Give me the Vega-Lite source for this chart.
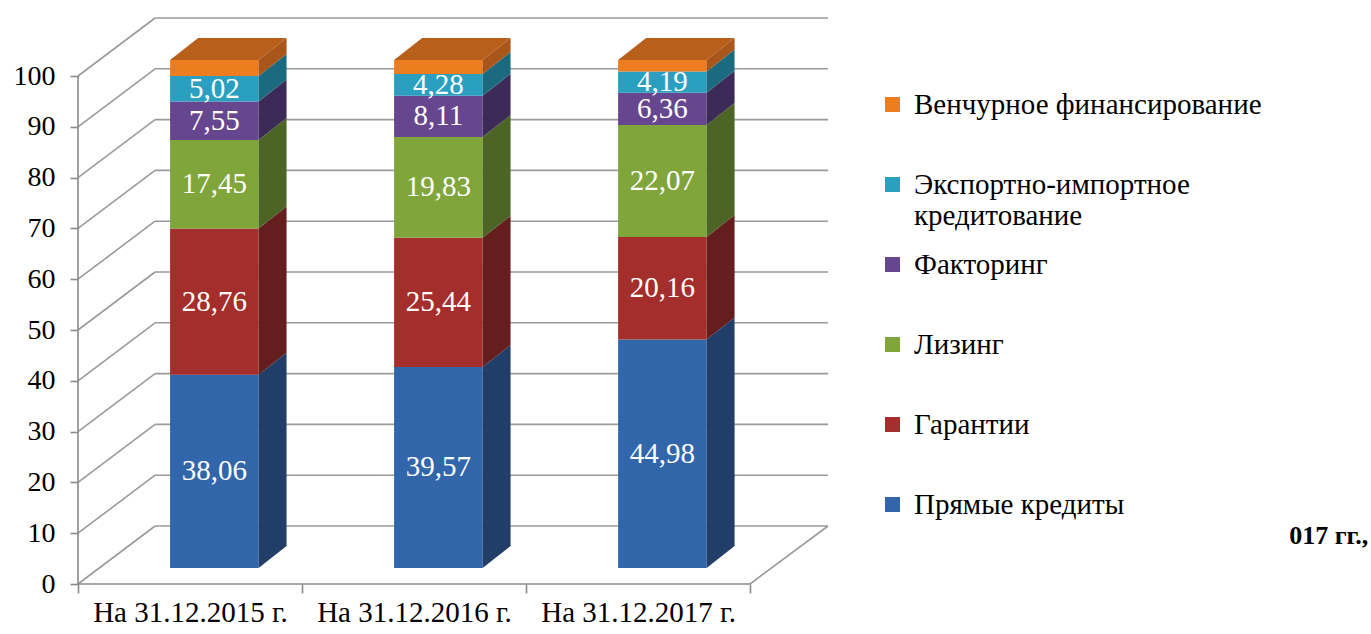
{
  "$schema": "https://vega.github.io/schema/vega-lite/v6.json",
  "width": 750,
  "height": 566,
  "autosize": {"type": "none"},
  "padding": {"left": 78, "top": 18, "right": 543, "bottom": 50},
  "background": "white",
  "config": {
    "view": {"stroke": null},
    "locale": {"number": {"decimal": ",", "thousands": " ", "grouping": [3], "currency": ["", " ₽"]}}
  },
  "datasets": {
    "one": [{}],
    "grid": [{"k": 0}, {"k": 10}, {"k": 20}, {"k": 30}, {"k": 40}, {"k": 50}, {"k": 60}, {"k": 70}, {"k": 80}, {"k": 90}, {"k": 100}],
    "shares": [
      {"year": "На 31.12.2015 г.", "cat": "Прямые кредиты", "v": 38.06},
      {"year": "На 31.12.2015 г.", "cat": "Гарантии", "v": 28.76},
      {"year": "На 31.12.2015 г.", "cat": "Лизинг", "v": 17.45},
      {"year": "На 31.12.2015 г.", "cat": "Факторинг", "v": 7.55},
      {"year": "На 31.12.2015 г.", "cat": "Экспортно-импортное кредитование", "v": 5.02},
      {"year": "На 31.12.2015 г.", "cat": "Венчурное финансирование", "v": 3.16},
      {"year": "На 31.12.2016 г.", "cat": "Прямые кредиты", "v": 39.57},
      {"year": "На 31.12.2016 г.", "cat": "Гарантии", "v": 25.44},
      {"year": "На 31.12.2016 г.", "cat": "Лизинг", "v": 19.83},
      {"year": "На 31.12.2016 г.", "cat": "Факторинг", "v": 8.11},
      {"year": "На 31.12.2016 г.", "cat": "Экспортно-импортное кредитование", "v": 4.28},
      {"year": "На 31.12.2016 г.", "cat": "Венчурное финансирование", "v": 2.77},
      {"year": "На 31.12.2017 г.", "cat": "Прямые кредиты", "v": 44.98},
      {"year": "На 31.12.2017 г.", "cat": "Гарантии", "v": 20.16},
      {"year": "На 31.12.2017 г.", "cat": "Лизинг", "v": 22.07},
      {"year": "На 31.12.2017 г.", "cat": "Факторинг", "v": 6.36},
      {"year": "На 31.12.2017 г.", "cat": "Экспортно-импортное кредитование", "v": 4.19},
      {"year": "На 31.12.2017 г.", "cat": "Венчурное финансирование", "v": 2.24}
    ]
  },
  "layer": [
    {
      "data": {"name": "grid"},
      "transform": [{"calculate": "datum.k + 11.42", "as": "kb"}],
      "mark": {"type": "rule", "color": "#9a9a9a", "strokeWidth": 1.6},
      "encoding": {
        "x": {"datum": 0.344, "type": "quantitative", "title": null, "scale": {"domain": [0, 3.348], "nice": false, "zero": false},
          "axis": {"values": [0, 0.5, 1, 1.5, 2, 2.5, 3], "title": null, "domain": false, "grid": false,
            "labelExpr": "datum.value == 0.5 ? 'На 31.12.2015 г.' : datum.value == 1.5 ? 'На 31.12.2016 г.' : datum.value == 2.5 ? 'На 31.12.2017 г.' : ''",
            "labelOverlap": false, "labelFlush": false, "labelBound": false, "labelLimit": 400,
            "tickSize": 9, "tickColor": "#8a8a8a", "tickWidth": 1.6,
            "tickOpacity": {"condition": {"test": "datum.value % 1 != 0", "value": 0}, "value": 1},
            "labelFont": "Liberation Serif", "labelFontSize": 29, "labelColor": "#000000", "labelPadding": 5}},
        "x2": {"datum": 3.348},
        "y": {"field": "kb", "type": "quantitative", "title": null, "scale": {"domain": [0, 111.42], "nice": false, "zero": false},
          "axis": {"values": [0, 10, 20, 30, 40, 50, 60, 70, 80, 90, 100], "title": null, "domain": false, "grid": false,
            "tickSize": 8, "tickColor": "#8a8a8a", "tickWidth": 1.6,
            "labelFont": "Liberation Serif", "labelFontSize": 28, "labelColor": "#000000", "labelPadding": 15}}
      }
    },
    {
      "data": {"name": "grid"},
      "transform": [{"calculate": "datum.k + 11.42", "as": "kb"}],
      "mark": {"type": "rule", "color": "#9a9a9a", "strokeWidth": 1.6},
      "encoding": {
        "x": {"datum": 0, "type": "quantitative", "title": null},
        "x2": {"datum": 0.344},
        "y": {"field": "k", "type": "quantitative", "title": null},
        "y2": {"field": "kb"}
      }
    },
    {
      "data": {"name": "one"},
      "mark": {"type": "rule", "color": "#8a8a8a", "strokeWidth": 1.6},
      "encoding": {
        "x": {"datum": 0, "type": "quantitative", "title": null},
        "y": {"datum": 0, "type": "quantitative", "title": null},
        "y2": {"datum": 100}
      }
    },
    {
      "data": {"name": "one"},
      "mark": {"type": "rule", "color": "#8a8a8a", "strokeWidth": 1.6},
      "encoding": {
        "x": {"datum": 0, "type": "quantitative", "title": null},
        "x2": {"datum": 3},
        "y": {"datum": 0, "type": "quantitative", "title": null}
      }
    },
    {
      "data": {"name": "one"},
      "mark": {"type": "rule", "color": "#9a9a9a", "strokeWidth": 1.6},
      "encoding": {
        "x": {"datum": 3, "type": "quantitative", "title": null},
        "x2": {"datum": 3.348},
        "y": {"datum": 0, "type": "quantitative", "title": null},
        "y2": {"datum": 11.42}
      }
    },
    {
      "data": {"name": "shares"},
      "transform": [
        {"calculate": "indexof(['На 31.12.2015 г.','На 31.12.2016 г.','На 31.12.2017 г.'], datum.year)", "as": "i"},
        {"calculate": "indexof(['Прямые кредиты','Гарантии','Лизинг','Факторинг','Экспортно-импортное кредитование','Венчурное финансирование'], datum.cat)", "as": "o"},
        {"stack": "v", "groupby": ["year"], "sort": [{"field": "o", "order": "ascending"}], "as": ["s0", "s1"]},
        {"calculate": "datum.i + 0.411", "as": "fx0"},
        {"calculate": "datum.i + 0.806", "as": "fx1"},
        {"calculate": "datum.s0 + 3.15", "as": "fy0"},
        {"calculate": "datum.s1 + 3.15", "as": "fy1"}
      ],
      "layer": [
        {
          "mark": {"type": "rect"},
          "encoding": {
            "x": {"field": "fx0", "type": "quantitative", "title": null},
            "x2": {"field": "fx1"},
            "y": {"field": "fy0", "type": "quantitative", "title": null},
            "y2": {"field": "fy1"},
            "color": {
              "field": "cat", "type": "nominal",
              "scale": {
                "domain": ["Венчурное финансирование", "Экспортно-импортное кредитование", "Факторинг", "Лизинг", "Гарантии", "Прямые кредиты"],
                "range": ["#ee7d20", "#2b9fc0", "#66468e", "#80a53b", "#a42e2c", "#3166ab"]
              },
              "legend": {
                "title": null, "orient": "none", "legendX": 800, "legendY": 72,
                "symbolType": "square", "symbolSize": 225, "symbolStrokeWidth": 0,
                "labelFont": "Liberation Serif", "labelFontSize": 29, "labelColor": "#000000",
                "labelOffset": 7, "labelLimit": 500, "rowPadding": 19, "gridAlign": "all",
                "labelExpr": "datum.label == 'Экспортно-импортное кредитование' ? ['Экспортно-импортное', 'кредитование'] : datum.label"
              }
            }
          }
        },
        {
          "transform": [
            {"calculate": "[0, 1]", "as": "k"},
            {"flatten": ["k"]},
            {"calculate": "datum.fx1 + datum.k * 0.125", "as": "sx"},
            {"calculate": "datum.fy0 + datum.k * 4.33", "as": "sy0"},
            {"calculate": "datum.fy1 + datum.k * 4.33", "as": "sy1"}
          ],
          "mark": {"type": "area", "orient": "vertical"},
          "encoding": {
            "x": {"field": "sx", "type": "quantitative", "title": null},
            "y": {"field": "sy0", "type": "quantitative", "title": null, "stack": null},
            "y2": {"field": "sy1"},
            "detail": [{"field": "year"}, {"field": "cat"}],
            "fill": {
              "field": "cat", "type": "nominal", "legend": null,
              "scale": {
                "domain": ["Венчурное финансирование", "Экспортно-импортное кредитование", "Факторинг", "Лизинг", "Гарантии", "Прямые кредиты"],
                "range": ["#a8561a", "#1b6a80", "#3c2b56", "#4c6527", "#631e1d", "#203e68"]
              }
            }
          }
        },
        {
          "transform": [
            {"filter": "datum.cat == 'Венчурное финансирование'"},
            {"calculate": "[0, 1]", "as": "k"},
            {"flatten": ["k"]},
            {"calculate": "datum.fx0 + datum.k * 0.125", "as": "tx0"},
            {"calculate": "datum.fx1 + datum.k * 0.125", "as": "tx1"},
            {"calculate": "datum.fy1 + datum.k * 4.33", "as": "ty"}
          ],
          "mark": {"type": "area", "orient": "horizontal", "color": "#b85f1b"},
          "encoding": {
            "y": {"field": "ty", "type": "quantitative", "title": null},
            "x": {"field": "tx0", "type": "quantitative", "title": null, "stack": null},
            "x2": {"field": "tx1"},
            "detail": {"field": "year"}
          }
        },
        {
          "transform": [
            {"filter": "datum.cat != 'Венчурное финансирование'"},
            {"calculate": "(datum.fx0 + datum.fx1) / 2", "as": "mx"},
            {"calculate": "(datum.fy0 + datum.fy1) / 2", "as": "my"}
          ],
          "mark": {"type": "text", "font": "Liberation Serif", "fontSize": 29, "color": "#ffffff", "baseline": "middle", "align": "center"},
          "encoding": {
            "x": {"field": "mx", "type": "quantitative", "title": null},
            "y": {"field": "my", "type": "quantitative", "title": null},
            "text": {"field": "v", "type": "quantitative", "format": ".2f"}
          }
        }
      ]
    },
    {
      "data": {"name": "one"},
      "mark": {"type": "text", "font": "Liberation Serif", "fontSize": 26, "fontWeight": "bold", "color": "#000000", "align": "right", "baseline": "middle", "text": "017 гг.,"},
      "encoding": {
        "x": {"datum": 5.76, "type": "quantitative", "title": null},
        "y": {"datum": 9.45, "type": "quantitative", "title": null}
      }
    }
  ]
}
